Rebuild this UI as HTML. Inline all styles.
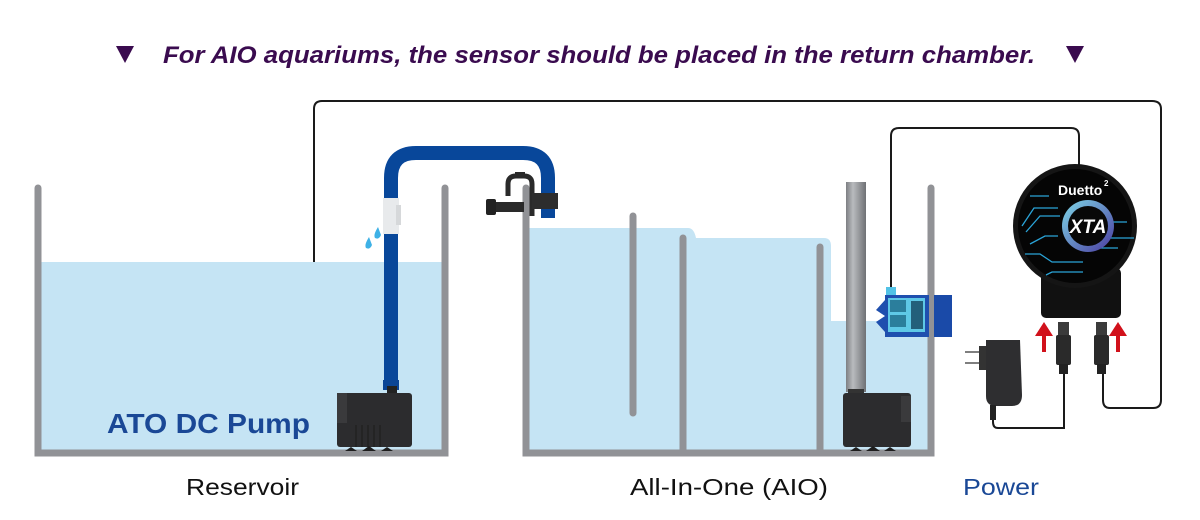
<!DOCTYPE html>
<html><head><meta charset="utf-8"><style>
html,body{margin:0;padding:0;background:#fff;width:1200px;height:520px;overflow:hidden}
svg{display:block}
</style></head><body>
<svg width="1200" height="520" viewBox="0 0 1200 520" xmlns="http://www.w3.org/2000/svg" font-family="Liberation Sans, sans-serif">
<defs>
<linearGradient id="pole" x1="0" x2="1"><stop offset="0" stop-color="#7d7f83"/><stop offset="0.35" stop-color="#b9bbbe"/><stop offset="1" stop-color="#6f7175"/></linearGradient>
<linearGradient id="ring" x1="0" x2="1" y1="0" y2="1"><stop offset="0" stop-color="#7fd8e8"/><stop offset="1" stop-color="#4a3aa0"/></linearGradient>
</defs>
<!-- title -->
<polygon points="116,46 134,46 125,63" fill="#3a0b4f"/>
<polygon points="1066,46 1084,46 1075,63" fill="#3a0b4f"/>
<text x="163" y="63" font-size="24" font-weight="bold" font-style="italic" fill="#3a0b4f" textLength="872" lengthAdjust="spacingAndGlyphs">For AIO aquariums, the sensor should be placed in the return chamber.</text>

<!-- wires -->
<g fill="none" stroke="#1a1a1a" stroke-width="2">
<path d="M337,408 H322 Q314,408 314,400 V109 Q314,101 322,101 H1152 Q1161,101 1161,109 V400 Q1161,408 1153,408 H1110 Q1103,408 1103,400 V372"/>
<path d="M891,290 V136 Q891,128 899,128 H1071 Q1079,128 1079,136 V165"/>
<path d="M1064,372 V428 H998 Q993,428 993,422 V400"/>
</g>

<!-- reservoir water -->
<rect x="41" y="262" width="401" height="191" fill="#c5e4f4"/>
<!-- AIO water -->
<path d="M529,228 H688 Q694,228 696,238 H824 Q831,238 831,246 V321 H928 V453 H529 Z" fill="#c5e4f4"/>

<!-- tanks -->
<g stroke="#919296" stroke-width="7" stroke-linecap="round" fill="none">
<path d="M38,188 V453 H445 V188"/>
<path d="M526,188 V453 H931 V188"/>
<line x1="633" y1="216" x2="633" y2="413"/>
<line x1="683" y1="238" x2="683" y2="450"/>
<line x1="820" y1="247" x2="820" y2="450"/>
</g>

<!-- pipe -->
<path d="M391,390 V178 Q391,153 416,153 H523 Q548,153 548,178 V218" fill="none" stroke="#08479a" stroke-width="14"/>
<rect x="383" y="198" width="16" height="36" fill="#e8eaec"/>
<rect x="396" y="205" width="5" height="20" fill="#d6d8da"/>
<path d="M378,227 q-5,8 -3,11 q4,2 6,-3 z M369,237 q-5,8 -3,11 q4,2 6,-3 z" fill="#3eb1e6"/>
<rect x="383" y="380" width="16" height="10" fill="#0a4596" />
<!-- clamp -->
<path d="M508,196 V184 Q508,176 516,176 H524 Q532,176 532,184 V216" fill="none" stroke="#2a2a2a" stroke-width="5"/>
<rect x="515" y="172" width="10" height="6" fill="#2a2a2a"/>
<rect x="490" y="202" width="34" height="10" fill="#2a2a2a"/>
<rect x="486" y="199" width="10" height="16" rx="2" fill="#222"/>
<rect x="532" y="193" width="26" height="16" fill="#2d2d2d"/>

<!-- reservoir pump -->
<rect x="387" y="386" width="10" height="8" fill="#222"/>
<rect x="337" y="393" width="75" height="54" rx="3" fill="#2c2c2e"/>
<rect x="337" y="393" width="10" height="30" fill="#3a3a3c"/>
<g stroke="#1b1b1b" stroke-width="1"><line x1="356" y1="425" x2="356" y2="447"/><line x1="362" y1="425" x2="362" y2="447"/><line x1="368" y1="425" x2="368" y2="447"/><line x1="374" y1="425" x2="374" y2="447"/><line x1="380" y1="425" x2="380" y2="447"/></g>
<path d="M345,451 h12 l-6,-4z M362,451 h14 l-7,-5z M381,451 h12 l-6,-4z" fill="#1e1e1e"/>

<!-- AIO pole & pump -->
<rect x="846" y="182" width="20" height="210" fill="url(#pole)"/>
<rect x="848" y="389" width="16" height="5" fill="#333"/>
<rect x="843" y="393" width="68" height="54" rx="3" fill="#2c2c2e"/>
<rect x="901" y="396" width="10" height="26" fill="#3a3a3c"/>
<path d="M850,451 h12 l-6,-4z M866,451 h14 l-7,-5z M884,451 h12 l-6,-4z" fill="#1e1e1e"/>

<!-- sensor -->
<rect x="886" y="287" width="10" height="8" fill="#52c2e6"/>
<rect x="885" y="295" width="44" height="42" fill="#1f4fae"/>
<rect x="888" y="298" width="37" height="34" fill="#5fc8e6"/>
<rect x="890" y="300" width="16" height="12" fill="#2b7e9c"/>
<rect x="890" y="315" width="16" height="12" fill="#2b7e9c"/>
<rect x="911" y="301" width="12" height="28" fill="#235f7a"/>
<polygon points="885,300 876,310 885,316 876,322 885,332" fill="#1f4fae"/>
<rect x="934" y="295" width="18" height="42" fill="#1a4aa8"/>

<!-- power adapter -->
<g stroke="#555" stroke-width="1.5"><line x1="965" y1="352" x2="982" y2="352"/><line x1="965" y1="363" x2="982" y2="363"/></g>
<rect x="979" y="346" width="8" height="24" fill="#333"/>
<path d="M986,340 H1020 L1022,395 Q1022,406 1012,406 H996 Q986,406 986,396 Z" fill="#2e2e30"/>
<rect x="990" y="405" width="6" height="15" fill="#222"/>
<!-- plugs -->
<rect x="1058" y="322" width="11" height="14" fill="#3b3b3b"/>
<rect x="1056" y="335" width="15" height="30" rx="2" fill="#2a2a2a"/>
<rect x="1059" y="364" width="9" height="10" fill="#222"/>
<rect x="1096" y="322" width="11" height="14" fill="#3b3b3b"/>
<rect x="1094" y="335" width="15" height="30" rx="2" fill="#2a2a2a"/>
<rect x="1097" y="364" width="9" height="10" fill="#222"/>
<!-- red arrows -->
<path d="M1042,352 V336 H1035 L1044,322 L1053,336 H1046 V352 Z" fill="#d1111b"/>
<path d="M1116,352 V336 H1109 L1118,322 L1127,336 H1120 V352 Z" fill="#d1111b"/>

<!-- Duetto -->
<rect x="1041" y="268" width="80" height="50" rx="5" fill="#111"/>
<circle cx="1075" cy="226" r="62" fill="#151515"/>
<circle cx="1075" cy="226" r="57" fill="#050505"/>
<g stroke="#2aa4d8" stroke-width="1.3" fill="none">
<path d="M1030,196 H1049"/><path d="M1022,226 L1034,208 H1058"/><path d="M1026,232 L1040,216 H1060"/><path d="M1025,254 H1040 L1052,262 H1083"/><path d="M1030,244 L1045,236 H1058"/><path d="M1046,275 L1052,272 H1083"/><path d="M1107,222 H1127"/><path d="M1107,238 H1134"/><path d="M1100,248 H1118"/>
</g>
<circle cx="1088" cy="226" r="26" fill="url(#ring)"/>
<circle cx="1088" cy="226" r="20" fill="#080808"/>
<text x="1088" y="233" font-size="19" font-weight="bold" fill="#fff" text-anchor="middle" font-style="italic">XTA</text>
<text x="1058" y="195" font-size="14" font-weight="bold" fill="#fff">Duetto</text>
<text x="1104" y="186" font-size="8" font-weight="bold" fill="#fff">2</text>

<!-- labels -->
<text x="107" y="433" font-size="28" fill="#1a4896" font-weight="bold" textLength="203" lengthAdjust="spacingAndGlyphs">ATO DC Pump</text>
<text x="186" y="495" font-size="23" fill="#111" textLength="113" lengthAdjust="spacingAndGlyphs">Reservoir</text>
<text x="630" y="495" font-size="23" fill="#111" textLength="198" lengthAdjust="spacingAndGlyphs">All-In-One (AIO)</text>
<text x="963" y="495" font-size="23" fill="#1a4896" textLength="76" lengthAdjust="spacingAndGlyphs">Power</text>
</svg>
</body></html>
